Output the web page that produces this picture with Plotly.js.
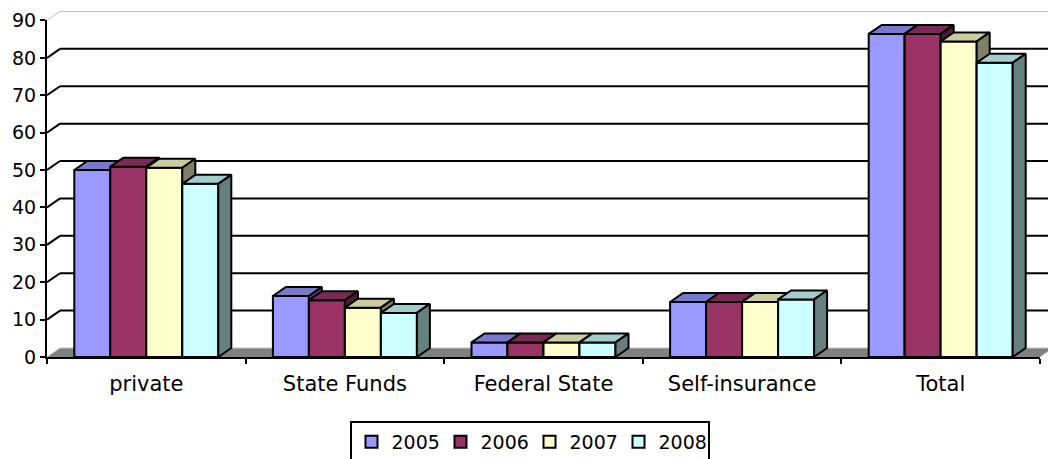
<!DOCTYPE html>
<html>
<head>
<meta charset="utf-8">
<script src="https://cdn.plot.ly/plotly-3.0.1.min.js"></script>
<style>
  html, body { margin: 0; padding: 0; background: #ffffff; }
  #chart { width: 1048px; height: 459px; }
</style>
</head>
<body>
<div id="chart"></div>
<script>
// ---- Data ----
const categories = ['private', 'State Funds', 'Federal State', 'Self-insurance', 'Total'];
const years = ['2005', '2006', '2007', '2008'];
const v2005 = [50.0, 16.3, 3.9, 14.7, 86.4];
const v2006 = [50.9, 15.2, 3.9, 14.7, 86.4];
const v2007 = [50.6, 13.2, 3.9, 14.7, 84.4];
const v2008 = [46.3, 11.8, 3.9, 15.4, 78.7];
const yTicks = [0, 10, 20, 30, 40, 50, 60, 70, 80, 90];

// ---- Styling ----
const seriesValues = [v2005, v2006, v2007, v2008];
const frontColors = ['#9999FF', '#993366', '#FFFFCC', '#CCFFFF'];
const topColors   = ['#7A7ACC', '#7A2952', '#CCCCA3', '#A3CCCC'];
const sideColors  = ['#4D4D80', '#4D1A33', '#808066', '#668080'];

// pixel geometry -> data units
const W = 1048, H = 459;
const mL = 47, mR = 0, mT = 10, mB = 102;
const plotW = W - mL - mR, plotH = H - mT - mB;
const pxPerCat = 198.6;                // front category width in px
const yMax = 92.8;
const pxPerUnit = plotH / yMax;
const xMin = -0.5, xMax = xMin + plotW / pxPerCat;
const DX = 13 / pxPerCat;              // 3-D depth, x (category units)
const DY = 9 / pxPerUnit;              // 3-D depth, y (value units)
const BW = 36 / pxPerCat;              // bar width
const nCat = categories.length;
const catIdx = categories.map((c, i) => i);

const traces = [];
const yAxisIds = ['y', 'y2', 'y3', 'y4'];
seriesValues.forEach((vals, s) => {
  const off = -2 * BW + s * BW;
  traces.push({
    type: 'bar', name: years[s], x: catIdx, y: vals,
    width: BW, offset: off,
    xaxis: 'x', yaxis: yAxisIds[s],
    marker: { color: frontColors[s], line: { color: '#000000', width: 2 } },
    hoverinfo: 'skip'
  });
  const tx = [], ty = [], sx = [], sy = [];
  vals.forEach((h, i) => {
    const l = i + off, r = l + BW;
    tx.push(l, r, r + DX, l + DX, l, null);
    ty.push(h, h, h + DY, h + DY, h, null);
    sx.push(r, r + DX, r + DX, r, r, null);
    sy.push(0, DY, h + DY, h, 0, null);
  });
  traces.push({
    type: 'scatter', mode: 'lines', x: tx, y: ty, fill: 'toself',
    fillcolor: topColors[s], line: { color: '#000000', width: 2 },
    xaxis: 'x', yaxis: yAxisIds[s], showlegend: false, hoverinfo: 'skip'
  });
  traces.push({
    type: 'scatter', mode: 'lines', x: sx, y: sy, fill: 'toself',
    fillcolor: sideColors[s], line: { color: '#000000', width: 2 },
    xaxis: 'x', yaxis: yAxisIds[s], showlegend: false, hoverinfo: 'skip'
  });
});

// dummy trace that carries the front axes (category x axis, 0-90 y axis)
traces.push({
  type: 'scatter', mode: 'none', x: categories, y: categories.map(() => null),
  xaxis: 'x5', yaxis: 'y5', showlegend: false, hoverinfo: 'skip'
});

// walls, floor and gridlines
const shapes = [];
shapes.push({
  type: 'path', xref: 'x', yref: 'y', layer: 'below',
  path: `M${xMin},0 L${xMin + nCat},0 L${xMin + nCat + DX},${DY} L${xMin + DX},${DY} Z`,
  fillcolor: '#808080', line: { width: 0 }
});
shapes.push({
  type: 'path', xref: 'x', yref: 'y', layer: 'below',
  path: `M${xMin},0 L${xMin + DX},${DY} L${xMin + nCat + DX},${DY} L${xMin + nCat},0`,
  fillcolor: 'rgba(0,0,0,0)', line: { color: '#C8C8C8', width: 1 }
});
yTicks.forEach(v => {
  if (v === 0) return;
  const col = v === 90 ? '#C0C0C0' : '#000000';
  const wd = v === 90 ? 1 : 2;
  shapes.push({
    type: 'line', xref: 'x', yref: 'y', layer: 'below',
    x0: xMin, y0: v, x1: xMin + DX, y1: v + DY,
    line: { color: col, width: wd }
  });
  shapes.push({
    type: 'line', xref: 'x', yref: 'y', layer: 'below',
    x0: xMin + DX, y0: v + DY, x1: xMax + 1, y1: v + DY,
    line: { color: col, width: wd }
  });
});

const font = { family: 'DejaVu Sans, Verdana, sans-serif', color: '#000000' };
const hidden = { visible: false, fixedrange: true };
const layout = {
  width: W, height: H,
  margin: { l: mL, r: mR, t: mT, b: mB, pad: 0, autoexpand: false },
  paper_bgcolor: '#ffffff', plot_bgcolor: 'rgba(0,0,0,0)',
  barmode: 'overlay',
  hovermode: false,
  showlegend: true,
  font: font,
  xaxis: Object.assign({ range: [xMin, xMax], type: 'linear' }, hidden),
  yaxis: Object.assign({ range: [0, yMax] }, hidden),
  yaxis2: Object.assign({ range: [0, yMax], overlaying: 'y' }, hidden),
  yaxis3: Object.assign({ range: [0, yMax], overlaying: 'y' }, hidden),
  yaxis4: Object.assign({ range: [0, yMax], overlaying: 'y' }, hidden),
  xaxis5: {
    type: 'category', categoryorder: 'array', categoryarray: categories,
    range: [-0.5, nCat - 0.5], domain: [0, (nCat * pxPerCat) / plotW],
    anchor: 'y5', showline: true, linecolor: '#000000', linewidth: 2,
    ticks: 'outside', tickson: 'boundaries', ticklen: 5, tickwidth: 2, tickcolor: '#000000',
    ticklabelstandoff: 7, automargin: false,
    showgrid: false, zeroline: false, fixedrange: true,
    tickfont: Object.assign({ size: 21 }, font)
  },
  yaxis5: {
    range: [0, 90], domain: [0, 90 / yMax], anchor: 'x5',
    tickmode: 'array', tickvals: yTicks, ticktext: yTicks.map(String),
    showline: true, linecolor: '#000000', linewidth: 2, automargin: false,
    ticks: 'outside', ticklen: 5, tickwidth: 2, tickcolor: '#000000',
    showgrid: false, zeroline: false, fixedrange: true,
    tickfont: Object.assign({ size: 19 }, font)
  },
  legend: {
    orientation: 'h', x: (529.5 - mL) / plotW, xanchor: 'center',
    y: -(421 - (H - mB)) / plotH, yanchor: 'top',
    bordercolor: '#000000', borderwidth: 2, bgcolor: '#ffffff',
    itemwidth: 30, traceorder: 'normal', entrywidth: 44, entrywidthmode: 'pixels',
    font: Object.assign({ size: 19 }, font)
  },
  shapes: shapes
};

Plotly.newPlot('chart', traces, layout, { staticPlot: true, displayModeBar: false });
</script>
</body>
</html>
